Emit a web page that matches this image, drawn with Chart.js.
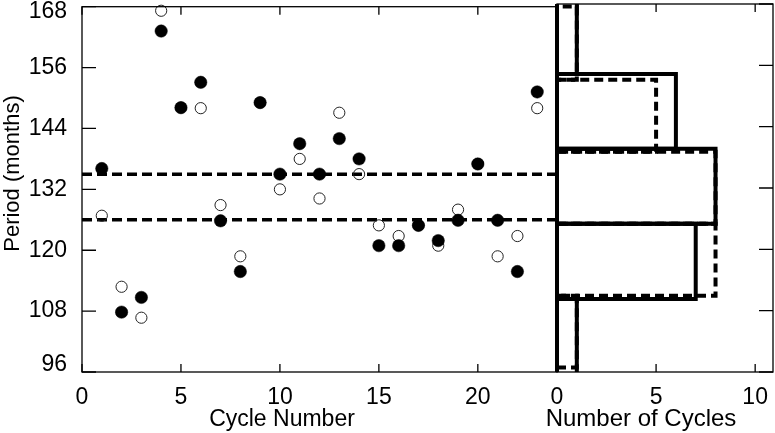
<!DOCTYPE html>
<html>
<head>
<meta charset="utf-8">
<script src="https://cdn.jsdelivr.net/npm/chart.js@4.4.1/dist/chart.umd.min.js"></script>
<style>
  body { margin: 0; background: #fff; }
  #wrap { position: relative; width: 775px; height: 433px; }
  canvas { position: absolute; left: 0; top: 0; }
</style>
</head>
<body>
<div id="wrap">
  <canvas id="scatter" width="775" height="433"></canvas>
  <canvas id="hist" width="775" height="433"></canvas>
</div>
<script>
// データ
const cycles = [1, 2, 3, 4, 5, 6, 7, 8, 9, 10, 11, 12, 13, 14, 15, 16, 17, 18, 19, 20, 21, 22, 23];
const periodFilled = [136.1, 107.8, 110.7, 163.2, 148.1, 153.1, 125.8, 115.8, 149.1, 135, 141, 135, 142, 138, 120.9, 120.9, 124.9, 121.9, 125.9, 137, 125.9, 115.8, 151.2];
const periodOpen = [126.8, 112.8, 106.7, 167.2, 148.1, 148, 128.9, 118.8, 149.1, 132, 138, 130.2, 147.1, 135, 124.9, 122.8, 124.9, 120.9, 128, 137, 118.8, 122.8, 148];
const meanLines = [135, 126];

// ヒストグラム（実線 = 黒丸, 破線 = 白丸）
const binEdgesSolid = [95.6, 110.3, 125.0, 139.7, 154.3, 169.0];
const countsSolid = [1, 7, 8, 6, 1];
const binEdgesDashed = [96.9, 110.9, 125.0, 139.1, 153.2, 167.5];
const countsDashed = [1, 8, 8, 5, 1];

// 目盛り
const cycleTicks = [0, 5, 10, 15, 20];
const periodTicks = [96, 108, 120, 132, 144, 156, 168];
const countTicks = [0, 5, 10];

const FONT = '"Liberation Sans", Arial, Helvetica, sans-serif';

// ラベルのはみ出し分の自動余白を消す
function noPad(s) {
  s.paddingTop = 0; s.paddingBottom = 0;
  s.paddingLeft = 0; s.paddingRight = 0;
}

// 枠・内向きの目盛り・軸ラベルを描くプラグイン
const frameAndTicks = {
  id: 'frameAndTicks',
  beforeDraw(chart, args, opts) {
    // 両端の目盛りラベルを枠の内側に寄せる
    if (!opts.nudgeY) return;
    const ys = chart.scales.y;
    const items = ys.getLabelItems(chart.chartArea);
    if (items.length) {
      items[0].options.translation[1] -= opts.nudgeY[0];
      items[items.length - 1].options.translation[1] += opts.nudgeY[1];
    }
  },
  afterDraw(chart, args, opts) {
    const ctx = chart.ctx;
    const a = chart.chartArea;
    const xs = chart.scales.x;
    const ys = chart.scales.y;
    ctx.save();
    ctx.strokeStyle = '#000';
    ctx.lineWidth = 1.3;
    ctx.strokeRect(a.left, a.top, a.right - a.left, a.bottom - a.top);

    ctx.beginPath();
    xs.ticks.forEach(function(t) {
      const p = xs.getPixelForValue(t.value);
      ctx.moveTo(p, a.bottom); ctx.lineTo(p, a.bottom - 8);
      ctx.moveTo(p, a.top); ctx.lineTo(p, a.top + 8);
    });
    ys.ticks.forEach(function(t) {
      const p = ys.getPixelForValue(t.value);
      if (opts.ySide === 'left') {
        ctx.moveTo(a.left, p); ctx.lineTo(a.left + 14, p);
      } else {
        ctx.moveTo(a.right, p); ctx.lineTo(a.right - 14, p);
      }
    });
    ctx.stroke();

    ctx.fillStyle = '#000';
    ctx.font = opts.xTitleSize + 'px ' + FONT;
    ctx.textAlign = 'center';
    ctx.textBaseline = 'alphabetic';
    ctx.fillText(opts.xTitle, opts.xTitleX, 426);
    if (opts.yTitle) {
      ctx.translate(18.5, 173.5);
      ctx.rotate(-Math.PI / 2);
      ctx.font = '22px ' + FONT;
      ctx.fillText(opts.yTitle, 0, 0);
    }
    ctx.restore();
  }
};

Chart.defaults.font.family = FONT;
Chart.defaults.color = '#000';

// 左：周期の散布図
const filledPts = cycles.map((c, i) => ({ x: c, y: periodFilled[i] }));
const openPts = cycles.map((c, i) => ({ x: c, y: periodOpen[i] }));
const lineSets = meanLines.map(v => ({
  data: [{ x: 0, y: v }, { x: 24, y: v }],
  showLine: true,
  pointRadius: 0,
  borderColor: '#000',
  borderWidth: 3.5,
  borderDash: [10, 5],
  borderCapStyle: 'butt'
}));

new Chart(document.getElementById('scatter'), {
  type: 'scatter',
  data: {
    datasets: [
      { data: filledPts, pointRadius: 6.2, pointBackgroundColor: '#000', pointBorderColor: '#000', pointBorderWidth: 0.5, clip: false },
      { data: openPts, pointRadius: 5.6, pointBackgroundColor: 'rgba(0,0,0,0)', pointBorderColor: '#222', pointBorderWidth: 1, clip: false }
    ].concat(lineSets)
  },
  options: {
    responsive: false,
    animation: false,
    layout: { padding: { left: 0, right: 218, top: 4, bottom: 0 } },
    plugins: {
      legend: { display: false },
      tooltip: { enabled: false },
      frameAndTicks: { ySide: 'left', xTitle: 'Cycle Number', xTitleX: 282, xTitleSize: 23, yTitle: 'Period (months)', nudgeY: [7, 5] }
    },
    scales: {
      x: {
        type: 'linear', min: 0, max: 24,
        afterBuildTicks: s => { s.ticks = cycleTicks.map(v => ({ value: v })); },
        afterFit: s => { s.height = 61; noPad(s); },
        grid: { display: false },
        border: { display: false },
        ticks: { font: { size: 23 }, padding: 4 }
      },
      y: {
        type: 'linear', min: 96, max: 168,
        afterBuildTicks: s => { s.ticks = periodTicks.map(v => ({ value: v })); },
        afterFit: s => { s.width = 82; noPad(s); },
        grid: { display: false },
        border: { display: false },
        ticks: { font: { size: 23 }, padding: 7 }
      }
    }
  },
  plugins: [frameAndTicks]
});

// 右：周期のヒストグラム（横向き）
function histRects(edges, counts, dash) {
  return counts.map((c, i) => ({
    data: [
      { x: 0, y: edges[i] }, { x: c, y: edges[i] },
      { x: c, y: edges[i + 1] }, { x: 0, y: edges[i + 1] },
      { x: 0, y: edges[i] }
    ],
    showLine: true,
    pointRadius: 0,
    borderColor: '#000',
    borderWidth: 4,
    borderDash: dash,
    borderCapStyle: 'butt',
    borderJoinStyle: 'miter',
    clip: { left: 3, top: 0, right: 0, bottom: 0 }
  }));
}

new Chart(document.getElementById('hist'), {
  type: 'scatter',
  data: {
    datasets: histRects(binEdgesSolid, countsSolid, []).concat(histRects(binEdgesDashed, countsDashed, [9, 5]))
  },
  options: {
    responsive: false,
    animation: false,
    layout: { padding: { left: 557, right: 2, top: 4, bottom: 0 } },
    plugins: {
      legend: { display: false },
      tooltip: { enabled: false },
      frameAndTicks: { ySide: 'right', xTitle: 'Number of Cycles', xTitleX: 641, xTitleSize: 24 }
    },
    scales: {
      x: {
        type: 'linear', min: 0, max: 10.9,
        afterBuildTicks: s => { s.ticks = countTicks.map(v => ({ value: v })); },
        afterFit: s => { s.height = 61; noPad(s); },
        grid: { display: false },
        border: { display: false },
        ticks: { font: { size: 23 }, padding: 4 }
      },
      y: {
        type: 'linear', position: 'right', min: 96, max: 168,
        afterBuildTicks: s => { s.ticks = periodTicks.map(v => ({ value: v })); },
        afterFit: s => { s.width = 0; noPad(s); },
        grid: { display: false },
        border: { display: false },
        ticks: { display: false }
      }
    }
  },
  plugins: [frameAndTicks]
});
</script>
</body>
</html>
